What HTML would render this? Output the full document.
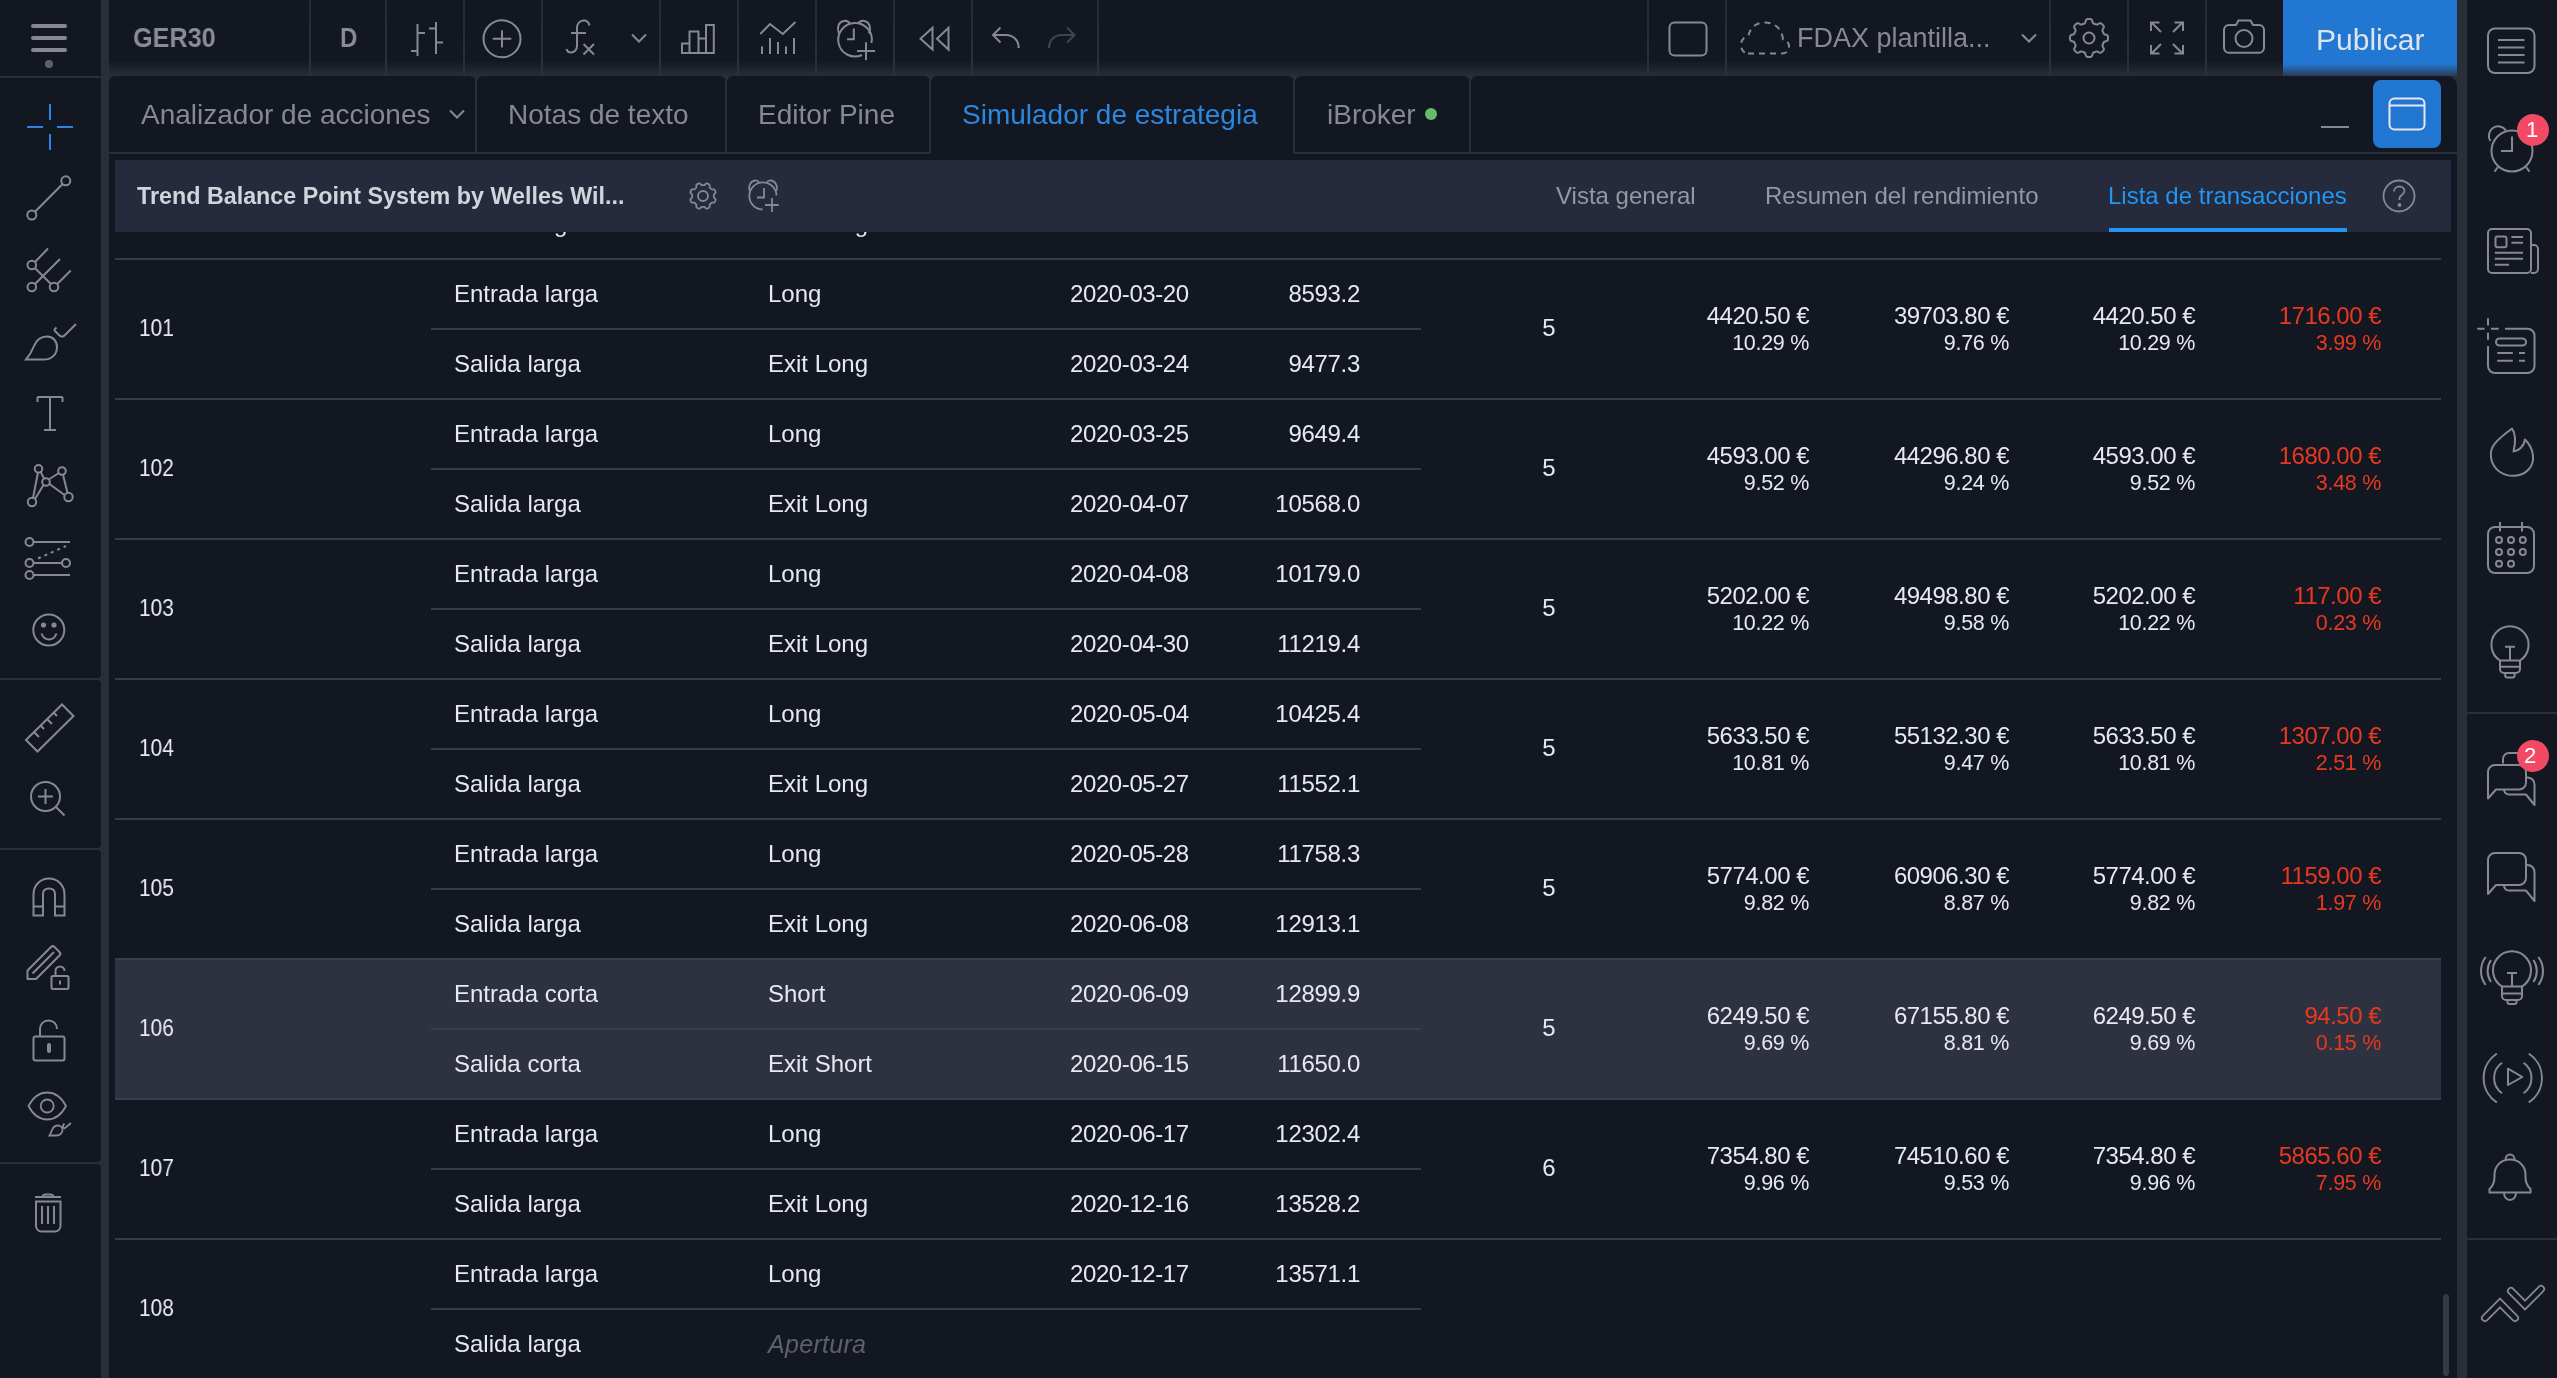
<!DOCTYPE html>
<html><head><meta charset="utf-8"><style>
html,body{margin:0;padding:0;}
body{width:2557px;height:1378px;position:relative;overflow:hidden;background:#2a2e39;font-family:"Liberation Sans",sans-serif;-webkit-font-smoothing:antialiased;}
</style></head><body>

<div style="position:absolute;left:0px;top:0px;width:101px;height:76px;background:#131722;"></div>
<div style="position:absolute;left:0px;top:78px;width:101px;height:600px;background:#131722;border-radius:0 0 4px 0;"></div>
<div style="position:absolute;left:0px;top:680px;width:101px;height:168px;background:#131722;border-radius:0 4px 4px 0;"></div>
<div style="position:absolute;left:0px;top:850px;width:101px;height:312px;background:#131722;border-radius:0 4px 4px 0;"></div>
<div style="position:absolute;left:0px;top:1164px;width:101px;height:214px;background:#131722;border-radius:0 4px 0 0;"></div>
<div style="position:absolute;left:109px;top:0px;width:2348px;height:76px;background:linear-gradient(to bottom,#131722 0px,#131722 60px,#292d38 76px);"></div>
<div style="position:absolute;left:309px;top:0px;width:2px;height:76px;background:linear-gradient(to bottom,#262a35,#2c303b);"></div>
<div style="position:absolute;left:385px;top:0px;width:2px;height:76px;background:linear-gradient(to bottom,#262a35,#2c303b);"></div>
<div style="position:absolute;left:463px;top:0px;width:2px;height:76px;background:linear-gradient(to bottom,#262a35,#2c303b);"></div>
<div style="position:absolute;left:541px;top:0px;width:2px;height:76px;background:linear-gradient(to bottom,#262a35,#2c303b);"></div>
<div style="position:absolute;left:659px;top:0px;width:2px;height:76px;background:linear-gradient(to bottom,#262a35,#2c303b);"></div>
<div style="position:absolute;left:737px;top:0px;width:2px;height:76px;background:linear-gradient(to bottom,#262a35,#2c303b);"></div>
<div style="position:absolute;left:815px;top:0px;width:2px;height:76px;background:linear-gradient(to bottom,#262a35,#2c303b);"></div>
<div style="position:absolute;left:893px;top:0px;width:2px;height:76px;background:linear-gradient(to bottom,#262a35,#2c303b);"></div>
<div style="position:absolute;left:971px;top:0px;width:2px;height:76px;background:linear-gradient(to bottom,#262a35,#2c303b);"></div>
<div style="position:absolute;left:1097px;top:0px;width:2px;height:76px;background:linear-gradient(to bottom,#262a35,#2c303b);"></div>
<div style="position:absolute;left:1647px;top:0px;width:2px;height:76px;background:linear-gradient(to bottom,#262a35,#2c303b);"></div>
<div style="position:absolute;left:1725px;top:0px;width:2px;height:76px;background:linear-gradient(to bottom,#262a35,#2c303b);"></div>
<div style="position:absolute;left:2049px;top:0px;width:2px;height:76px;background:linear-gradient(to bottom,#262a35,#2c303b);"></div>
<div style="position:absolute;left:2127px;top:0px;width:2px;height:76px;background:linear-gradient(to bottom,#262a35,#2c303b);"></div>
<div style="position:absolute;left:2205px;top:0px;width:2px;height:76px;background:linear-gradient(to bottom,#262a35,#2c303b);"></div>
<div style="position:absolute;left:2283px;top:0px;width:174px;height:76px;background:linear-gradient(to bottom,#2277d2 0px,#2277d2 64px,#2a3a52 76px);"></div>
<div style="position:absolute;left:2467px;top:0px;width:90px;height:1378px;background:#131722;"></div>
<div style="position:absolute;left:2467px;top:712px;width:90px;height:2px;background:#2a2e39;"></div>
<div style="position:absolute;left:2467px;top:1238px;width:90px;height:2px;background:#2a2e39;"></div>
<div style="position:absolute;left:109px;top:76px;width:367px;height:78px;background:#131722;border-radius:6px 6px 0 0;"></div>
<div style="position:absolute;left:477px;top:76px;width:249px;height:78px;background:#131722;border-radius:6px 6px 0 0;"></div>
<div style="position:absolute;left:727px;top:76px;width:203px;height:78px;background:#131722;border-radius:6px 6px 0 0;"></div>
<div style="position:absolute;left:931px;top:76px;width:363px;height:78px;background:#131722;border-radius:6px 6px 0 0;"></div>
<div style="position:absolute;left:1295px;top:76px;width:175px;height:78px;background:#131722;border-radius:6px 6px 0 0;"></div>
<div style="position:absolute;left:1471px;top:76px;width:986px;height:78px;background:#131722;border-radius:6px 10px 0 0;"></div>
<div style="position:absolute;left:475px;top:80px;width:2px;height:74px;background:#2a2e39;"></div>
<div style="position:absolute;left:725px;top:80px;width:2px;height:74px;background:#2a2e39;"></div>
<div style="position:absolute;left:929px;top:80px;width:2px;height:74px;background:#2a2e39;"></div>
<div style="position:absolute;left:1293px;top:80px;width:2px;height:74px;background:#2a2e39;"></div>
<div style="position:absolute;left:1469px;top:80px;width:2px;height:74px;background:#2a2e39;"></div>
<div style="position:absolute;left:109px;top:152px;width:822px;height:2px;background:#2a2e39;"></div>
<div style="position:absolute;left:1294px;top:152px;width:1163px;height:2px;background:#2a2e39;"></div>
<div style="position:absolute;left:109px;top:154px;width:2348px;height:1224px;background:#131722;"></div>
<div style="position:absolute;left:31px;top:24px;width:36px;height:4px;background:#868993;border-radius:2px;"></div>
<div style="position:absolute;left:31px;top:36px;width:36px;height:4px;background:#868993;border-radius:2px;"></div>
<div style="position:absolute;left:31px;top:48px;width:36px;height:4px;background:#868993;border-radius:2px;"></div>
<div style="position:absolute;left:45px;top:60px;width:8px;height:8px;background:#5d606b;border-radius:50%;"></div>
<div style="position:absolute;top:8.00px;height:60px;line-height:60px;font-size:28px;color:#8a8d97;font-weight:700;white-space:nowrap;will-change:transform;left:133px;transform:scaleX(0.9);transform-origin:0 50%;">GER30</div>
<div style="position:absolute;top:8.00px;height:60px;line-height:60px;font-size:28px;color:#8a8d97;font-weight:700;white-space:nowrap;will-change:transform;left:340px;transform:scaleX(0.86);transform-origin:0 50%;">D</div>
<svg style="position:absolute;left:405px;top:15px;" width="45" height="48" viewBox="405 15 45 48" fill="none" stroke="#868993" stroke-width="2"><path d="M417.5 24V56M411 51H417.5M417.5 33H425M436 22V54M429 28.5H436M436 42.5H443"/></svg>
<svg style="position:absolute;left:478px;top:14px;" width="50" height="50" viewBox="478 14 50 50" fill="none" stroke="#868993" stroke-width="2"><circle cx="502" cy="38.8" r="18.5"/><path d="M492.8 38.8H511.3M502 30.3V47.5"/></svg>
<svg style="position:absolute;left:560px;top:14px;" width="40" height="46" viewBox="560 14 40 46" fill="none" stroke="#868993" stroke-width="2"><path d="M589.5 25.5C589 22 586 20 583 20.5C579.5 21 577 24 577 28V46C577 50 574 52.5 571 52.5C568.5 52.5 567 51 566.5 49M571 33H586M583.5 44L594 54.5M594 44L583.5 54.5"/></svg>
<svg style="position:absolute;left:626px;top:28px;" width="26" height="20" viewBox="626 28 26 20" fill="none" stroke="#868993" stroke-width="2"><path d="M632 34.5L639 41.5L646 34.5"/></svg>
<svg style="position:absolute;left:676px;top:18px;" width="44" height="42" viewBox="676 18 44 42" fill="none" stroke="#868993" stroke-width="2"><path d="M682 53V43.6H689.5V53ZM689.5 53V31.6H698.5V53ZM698.5 53V38.5H706V53ZM706 53V25H713.8V53Z"/></svg>
<svg style="position:absolute;left:755px;top:16px;" width="46" height="44" viewBox="755 16 46 44" fill="none" stroke="#868993" stroke-width="2"><path d="M760.3 34L770 24L782.8 34L795.5 22M762 46.4V54M770 38V54M778 42V54M786 46.4V54M794 38V54"/></svg>
<svg style="position:absolute;left:830px;top:14px;" width="50" height="50" viewBox="830 14 50 50" fill="none" stroke="#868993" stroke-width="2"><path d="M862 55A16.8 16.8 0 1 1 871.5 43"/><path d="M839 33.5C836.5 28 838.5 22 843.5 21C846.5 20.5 849 22 850 24M858 24C859 22 861.5 20.5 864.5 21C869.5 22 871.5 28 869 33.5"/><path d="M853.8 28.4V39.2H847M857 51H875M866 42.3V60.3"/></svg>
<svg style="position:absolute;left:912px;top:20px;" width="44" height="38" viewBox="912 20 44 38" fill="none" stroke="#868993" stroke-width="2"><path d="M920.5 38.7L932.5 27.8V49.6ZM937 38.7L948.5 27.8V49.6Z"/></svg>
<svg style="position:absolute;left:988px;top:22px;" width="36" height="32" viewBox="988 22 36 32" fill="none" stroke="#868993" stroke-width="2"><path d="M1000.5 27.5L993 35L1000.5 42.5M993 35H1006C1013 35 1018.7 40 1018.7 48"/></svg>
<svg style="position:absolute;left:1044px;top:22px;" width="36" height="32" viewBox="1044 22 36 32" fill="none" stroke="#40444f" stroke-width="2"><path d="M1067 27.5L1074.5 35L1067 42.5M1074.5 35H1061.5C1054.5 35 1049 40 1049 48"/></svg>
<svg style="position:absolute;left:1664px;top:17px;" width="48" height="44" viewBox="1664 17 48 44" fill="none" stroke="#868993" stroke-width="2"><rect x="1669.5" y="22.5" width="37" height="33" rx="5"/></svg>
<svg style="position:absolute;left:1736px;top:16px;" width="60" height="44" viewBox="1736 16 60 44" fill="none" stroke="#868993" stroke-width="2"><path d="M1748 53.5H1782C1786.5 53.5 1789 50.5 1789 46.5C1789 43 1786.5 40 1783 39.5C1782 29 1775 22.5 1765 22.5C1756 22.5 1750 28 1748.5 35.5C1744 36.5 1741 40.5 1741 45C1741 50 1744 53.5 1748 53.5Z" stroke-dasharray="6 5"/></svg>
<div style="position:absolute;top:8.00px;height:60px;line-height:60px;font-size:27px;color:#868993;font-weight:400;white-space:nowrap;will-change:transform;left:1797px;">FDAX plantilla...</div>
<svg style="position:absolute;left:2016px;top:28px;" width="26" height="20" viewBox="2016 28 26 20" fill="none" stroke="#868993" stroke-width="2"><path d="M2022 34.5L2029 41.5L2036 34.5"/></svg>
<svg style="position:absolute;left:2064px;top:13px;" width="50" height="50" viewBox="2064 13 50 50" fill="none" stroke="#868993" stroke-width="2"><path d="M2089.00 19.00L2089.75 19.02L2090.49 19.10L2091.21 19.30L2091.87 19.88L2092.34 21.23L2092.70 22.59L2093.17 23.21L2093.71 23.51L2094.26 23.73L2094.82 23.96L2095.37 24.19L2095.92 24.42L2096.51 24.59L2097.28 24.48L2098.50 23.78L2099.79 23.16L2100.66 23.21L2101.31 23.58L2101.89 24.05L2102.44 24.56L2102.95 25.11L2103.42 25.69L2103.79 26.34L2103.84 27.21L2103.22 28.50L2102.52 29.72L2102.41 30.49L2102.58 31.08L2102.81 31.63L2103.04 32.18L2103.27 32.74L2103.49 33.29L2103.79 33.83L2104.41 34.30L2105.77 34.66L2107.12 35.13L2107.70 35.79L2107.90 36.51L2107.98 37.25L2108.00 38.00L2107.98 38.75L2107.90 39.49L2107.70 40.21L2107.12 40.87L2105.77 41.34L2104.41 41.70L2103.79 42.17L2103.49 42.71L2103.27 43.26L2103.04 43.82L2102.81 44.37L2102.58 44.92L2102.41 45.51L2102.52 46.28L2103.22 47.50L2103.84 48.79L2103.79 49.66L2103.42 50.31L2102.95 50.89L2102.44 51.44L2101.89 51.95L2101.31 52.42L2100.66 52.79L2099.79 52.84L2098.50 52.22L2097.28 51.52L2096.51 51.41L2095.92 51.58L2095.37 51.81L2094.82 52.04L2094.26 52.27L2093.71 52.49L2093.17 52.79L2092.70 53.41L2092.34 54.77L2091.87 56.12L2091.21 56.70L2090.49 56.90L2089.75 56.98L2089.00 57.00L2088.25 56.98L2087.51 56.90L2086.79 56.70L2086.13 56.12L2085.66 54.77L2085.30 53.41L2084.83 52.79L2084.29 52.49L2083.74 52.27L2083.18 52.04L2082.63 51.81L2082.08 51.58L2081.49 51.41L2080.72 51.52L2079.50 52.22L2078.21 52.84L2077.34 52.79L2076.69 52.42L2076.11 51.95L2075.56 51.44L2075.05 50.89L2074.58 50.31L2074.21 49.66L2074.16 48.79L2074.78 47.50L2075.48 46.28L2075.59 45.51L2075.42 44.92L2075.19 44.37L2074.96 43.82L2074.73 43.26L2074.51 42.71L2074.21 42.17L2073.59 41.70L2072.23 41.34L2070.88 40.87L2070.30 40.21L2070.10 39.49L2070.02 38.75L2070.00 38.00L2070.02 37.25L2070.10 36.51L2070.30 35.79L2070.88 35.13L2072.23 34.66L2073.59 34.30L2074.21 33.83L2074.51 33.29L2074.73 32.74L2074.96 32.18L2075.19 31.63L2075.42 31.08L2075.59 30.49L2075.48 29.72L2074.78 28.50L2074.16 27.21L2074.21 26.34L2074.58 25.69L2075.05 25.11L2075.56 24.56L2076.11 24.05L2076.69 23.58L2077.34 23.21L2078.21 23.16L2079.50 23.78L2080.72 24.48L2081.49 24.59L2082.08 24.42L2082.63 24.19L2083.18 23.96L2083.74 23.73L2084.29 23.51L2084.83 23.21L2085.30 22.59L2085.66 21.23L2086.13 19.88L2086.79 19.30L2087.51 19.10L2088.25 19.02Z"/><circle cx="2089" cy="38" r="5.5"/></svg>
<svg style="position:absolute;left:2146px;top:17px;" width="42" height="42" viewBox="2146 17 42 42" fill="none" stroke="#868993" stroke-width="2"><path d="M2152 23L2161 32M2151 31V22.5H2159.5M2182 23L2173 32M2183 31V22.5H2174.5M2152 53L2161 44M2151 45V53.5H2159.5M2182 53L2173 44M2183 45V53.5H2174.5"/></svg>
<svg style="position:absolute;left:2218px;top:15px;" width="52" height="44" viewBox="2218 15 52 44" fill="none" stroke="#868993" stroke-width="2"><path d="M2229 25H2236L2238.5 20.5H2250.5L2253 25H2259A5 5 0 0 1 2264 30V47.8A5 5 0 0 1 2259 52.8H2229A5 5 0 0 1 2224 47.8V30A5 5 0 0 1 2229 25Z"/><circle cx="2244" cy="38.5" r="8.5"/></svg>
<div style="position:absolute;top:10.00px;height:60px;line-height:60px;font-size:30px;color:#dfe3ea;font-weight:400;white-space:nowrap;will-change:transform;left:2316px;">Publicar</div>
<div style="position:absolute;top:85.00px;height:60px;line-height:60px;font-size:28px;color:#868993;font-weight:400;white-space:nowrap;will-change:transform;left:141px;">Analizador de acciones</div>
<svg style="position:absolute;left:444px;top:104px;" width="26" height="20" viewBox="444 104 26 20" fill="none" stroke="#868993" stroke-width="2"><path d="M450 110.5L457 117.5L464 110.5"/></svg>
<div style="position:absolute;top:85.00px;height:60px;line-height:60px;font-size:28px;color:#868993;font-weight:400;white-space:nowrap;will-change:transform;left:508px;">Notas de texto</div>
<div style="position:absolute;top:85.00px;height:60px;line-height:60px;font-size:28px;color:#868993;font-weight:400;white-space:nowrap;will-change:transform;left:758px;">Editor Pine</div>
<div style="position:absolute;top:85.00px;height:60px;line-height:60px;font-size:28px;color:#2b87e0;font-weight:400;white-space:nowrap;will-change:transform;left:962px;">Simulador de estrategia</div>
<div style="position:absolute;top:85.00px;height:60px;line-height:60px;font-size:28px;color:#868993;font-weight:400;white-space:nowrap;will-change:transform;left:1327px;">iBroker</div>
<div style="position:absolute;left:1425px;top:108px;width:12px;height:12px;background:#66bb6a;border-radius:50%;"></div>
<div style="position:absolute;left:2321px;top:126px;width:28px;height:2px;background:#868993;"></div>
<div style="position:absolute;left:2373px;top:80px;width:68px;height:68px;background:#2176d2;border-radius:8px;"></div>
<svg style="position:absolute;left:2384px;top:93px;" width="46" height="42" viewBox="2384 93 46 42" fill="none" stroke="#e6e8ec" stroke-width="2"><rect x="2389.5" y="98.5" width="35" height="31" rx="5"/><path d="M2390 105.5H2424"/></svg>
<div style="position:absolute;left:109px;top:232px;width:2348px;height:1146px;overflow:hidden;">
<div style="position:absolute;left:6px;top:-114px;width:2326px;height:2px;background:#363a4a;"></div>
<div style="position:absolute;left:322px;top:-44px;width:990px;height:2px;background:#363a4a;"></div>
<div style="position:absolute;top:-108.00px;height:60px;line-height:60px;font-size:24px;color:#e6e9ef;font-weight:400;white-space:nowrap;will-change:transform;left:345px;">Entrada larga</div>
<div style="position:absolute;top:-108.00px;height:60px;line-height:60px;font-size:24px;color:#e6e9ef;font-weight:400;white-space:nowrap;will-change:transform;left:659px;">Long</div>
<div style="position:absolute;top:-108.00px;height:60px;line-height:60px;font-size:24px;color:#e6e9ef;font-weight:400;white-space:nowrap;will-change:transform;left:961px;letter-spacing:-0.4px;">2020-03-12</div>
<div style="position:absolute;top:-108.00px;height:60px;line-height:60px;font-size:24px;color:#e6e9ef;font-weight:400;white-space:nowrap;will-change:transform;left:1051px;width:200px;text-align:right;letter-spacing:-0.3px;">9163.2</div>
<div style="position:absolute;top:-38.00px;height:60px;line-height:60px;font-size:24px;color:#e6e9ef;font-weight:400;white-space:nowrap;will-change:transform;left:345px;">Salida larga</div>
<div style="position:absolute;top:-38.00px;height:60px;line-height:60px;font-size:24px;color:#e6e9ef;font-weight:400;white-space:nowrap;will-change:transform;left:659px;">Exit Long</div>
<div style="position:absolute;top:-38.00px;height:60px;line-height:60px;font-size:24px;color:#e6e9ef;font-weight:400;white-space:nowrap;will-change:transform;left:961px;letter-spacing:-0.4px;">2020-03-19</div>
<div style="position:absolute;top:-38.00px;height:60px;line-height:60px;font-size:24px;color:#e6e9ef;font-weight:400;white-space:nowrap;will-change:transform;left:1051px;width:200px;text-align:right;letter-spacing:-0.3px;">8543.1</div>
<div style="position:absolute;left:6px;top:26px;width:2326px;height:2px;background:#363a4a;"></div>
<div style="position:absolute;left:322px;top:96px;width:990px;height:2px;background:#363a4a;"></div>
<div style="position:absolute;top:66.00px;height:60px;line-height:60px;font-size:24px;color:#e6e9ef;font-weight:400;white-space:nowrap;will-change:transform;left:30px;transform:scaleX(0.87);transform-origin:0 50%;">101</div>
<div style="position:absolute;top:32.00px;height:60px;line-height:60px;font-size:24px;color:#e6e9ef;font-weight:400;white-space:nowrap;will-change:transform;left:345px;">Entrada larga</div>
<div style="position:absolute;top:32.00px;height:60px;line-height:60px;font-size:24px;color:#e6e9ef;font-weight:400;white-space:nowrap;will-change:transform;left:659px;">Long</div>
<div style="position:absolute;top:32.00px;height:60px;line-height:60px;font-size:24px;color:#e6e9ef;font-weight:400;white-space:nowrap;will-change:transform;left:961px;letter-spacing:-0.4px;">2020-03-20</div>
<div style="position:absolute;top:32.00px;height:60px;line-height:60px;font-size:24px;color:#e6e9ef;font-weight:400;white-space:nowrap;will-change:transform;left:1051px;width:200px;text-align:right;letter-spacing:-0.3px;">8593.2</div>
<div style="position:absolute;top:102.00px;height:60px;line-height:60px;font-size:24px;color:#e6e9ef;font-weight:400;white-space:nowrap;will-change:transform;left:345px;">Salida larga</div>
<div style="position:absolute;top:102.00px;height:60px;line-height:60px;font-size:24px;color:#e6e9ef;font-weight:400;white-space:nowrap;will-change:transform;left:659px;">Exit Long</div>
<div style="position:absolute;top:102.00px;height:60px;line-height:60px;font-size:24px;color:#e6e9ef;font-weight:400;white-space:nowrap;will-change:transform;left:961px;letter-spacing:-0.4px;">2020-03-24</div>
<div style="position:absolute;top:102.00px;height:60px;line-height:60px;font-size:24px;color:#e6e9ef;font-weight:400;white-space:nowrap;will-change:transform;left:1051px;width:200px;text-align:right;letter-spacing:-0.3px;">9477.3</div>
<div style="position:absolute;top:66.00px;height:60px;line-height:60px;font-size:24px;color:#e6e9ef;font-weight:400;white-space:nowrap;will-change:transform;left:1410.0px;width:60px;text-align:center;">5</div>
<div style="position:absolute;top:54.00px;height:60px;line-height:60px;font-size:24px;color:#e6e9ef;font-weight:400;white-space:nowrap;will-change:transform;left:1400px;width:300px;text-align:right;letter-spacing:-0.5px;">4420.50 €</div>
<div style="position:absolute;top:80.50px;height:60px;line-height:60px;font-size:21.5px;color:#e6e9ef;font-weight:400;white-space:nowrap;will-change:transform;left:1400px;width:300px;text-align:right;letter-spacing:-0.3px;">10.29 %</div>
<div style="position:absolute;top:54.00px;height:60px;line-height:60px;font-size:24px;color:#e6e9ef;font-weight:400;white-space:nowrap;will-change:transform;left:1600px;width:300px;text-align:right;letter-spacing:-0.5px;">39703.80 €</div>
<div style="position:absolute;top:80.50px;height:60px;line-height:60px;font-size:21.5px;color:#e6e9ef;font-weight:400;white-space:nowrap;will-change:transform;left:1600px;width:300px;text-align:right;letter-spacing:-0.3px;">9.76 %</div>
<div style="position:absolute;top:54.00px;height:60px;line-height:60px;font-size:24px;color:#e6e9ef;font-weight:400;white-space:nowrap;will-change:transform;left:1786px;width:300px;text-align:right;letter-spacing:-0.5px;">4420.50 €</div>
<div style="position:absolute;top:80.50px;height:60px;line-height:60px;font-size:21.5px;color:#e6e9ef;font-weight:400;white-space:nowrap;will-change:transform;left:1786px;width:300px;text-align:right;letter-spacing:-0.3px;">10.29 %</div>
<div style="position:absolute;top:54.00px;height:60px;line-height:60px;font-size:24px;color:#e8391f;font-weight:400;white-space:nowrap;will-change:transform;left:1972px;width:300px;text-align:right;letter-spacing:-0.5px;">1716.00 €</div>
<div style="position:absolute;top:80.50px;height:60px;line-height:60px;font-size:21.5px;color:#e8391f;font-weight:400;white-space:nowrap;will-change:transform;left:1972px;width:300px;text-align:right;letter-spacing:-0.3px;">3.99 %</div>
<div style="position:absolute;left:6px;top:166px;width:2326px;height:2px;background:#363a4a;"></div>
<div style="position:absolute;left:322px;top:236px;width:990px;height:2px;background:#363a4a;"></div>
<div style="position:absolute;top:206.00px;height:60px;line-height:60px;font-size:24px;color:#e6e9ef;font-weight:400;white-space:nowrap;will-change:transform;left:30px;transform:scaleX(0.87);transform-origin:0 50%;">102</div>
<div style="position:absolute;top:172.00px;height:60px;line-height:60px;font-size:24px;color:#e6e9ef;font-weight:400;white-space:nowrap;will-change:transform;left:345px;">Entrada larga</div>
<div style="position:absolute;top:172.00px;height:60px;line-height:60px;font-size:24px;color:#e6e9ef;font-weight:400;white-space:nowrap;will-change:transform;left:659px;">Long</div>
<div style="position:absolute;top:172.00px;height:60px;line-height:60px;font-size:24px;color:#e6e9ef;font-weight:400;white-space:nowrap;will-change:transform;left:961px;letter-spacing:-0.4px;">2020-03-25</div>
<div style="position:absolute;top:172.00px;height:60px;line-height:60px;font-size:24px;color:#e6e9ef;font-weight:400;white-space:nowrap;will-change:transform;left:1051px;width:200px;text-align:right;letter-spacing:-0.3px;">9649.4</div>
<div style="position:absolute;top:242.00px;height:60px;line-height:60px;font-size:24px;color:#e6e9ef;font-weight:400;white-space:nowrap;will-change:transform;left:345px;">Salida larga</div>
<div style="position:absolute;top:242.00px;height:60px;line-height:60px;font-size:24px;color:#e6e9ef;font-weight:400;white-space:nowrap;will-change:transform;left:659px;">Exit Long</div>
<div style="position:absolute;top:242.00px;height:60px;line-height:60px;font-size:24px;color:#e6e9ef;font-weight:400;white-space:nowrap;will-change:transform;left:961px;letter-spacing:-0.4px;">2020-04-07</div>
<div style="position:absolute;top:242.00px;height:60px;line-height:60px;font-size:24px;color:#e6e9ef;font-weight:400;white-space:nowrap;will-change:transform;left:1051px;width:200px;text-align:right;letter-spacing:-0.3px;">10568.0</div>
<div style="position:absolute;top:206.00px;height:60px;line-height:60px;font-size:24px;color:#e6e9ef;font-weight:400;white-space:nowrap;will-change:transform;left:1410.0px;width:60px;text-align:center;">5</div>
<div style="position:absolute;top:194.00px;height:60px;line-height:60px;font-size:24px;color:#e6e9ef;font-weight:400;white-space:nowrap;will-change:transform;left:1400px;width:300px;text-align:right;letter-spacing:-0.5px;">4593.00 €</div>
<div style="position:absolute;top:220.50px;height:60px;line-height:60px;font-size:21.5px;color:#e6e9ef;font-weight:400;white-space:nowrap;will-change:transform;left:1400px;width:300px;text-align:right;letter-spacing:-0.3px;">9.52 %</div>
<div style="position:absolute;top:194.00px;height:60px;line-height:60px;font-size:24px;color:#e6e9ef;font-weight:400;white-space:nowrap;will-change:transform;left:1600px;width:300px;text-align:right;letter-spacing:-0.5px;">44296.80 €</div>
<div style="position:absolute;top:220.50px;height:60px;line-height:60px;font-size:21.5px;color:#e6e9ef;font-weight:400;white-space:nowrap;will-change:transform;left:1600px;width:300px;text-align:right;letter-spacing:-0.3px;">9.24 %</div>
<div style="position:absolute;top:194.00px;height:60px;line-height:60px;font-size:24px;color:#e6e9ef;font-weight:400;white-space:nowrap;will-change:transform;left:1786px;width:300px;text-align:right;letter-spacing:-0.5px;">4593.00 €</div>
<div style="position:absolute;top:220.50px;height:60px;line-height:60px;font-size:21.5px;color:#e6e9ef;font-weight:400;white-space:nowrap;will-change:transform;left:1786px;width:300px;text-align:right;letter-spacing:-0.3px;">9.52 %</div>
<div style="position:absolute;top:194.00px;height:60px;line-height:60px;font-size:24px;color:#e8391f;font-weight:400;white-space:nowrap;will-change:transform;left:1972px;width:300px;text-align:right;letter-spacing:-0.5px;">1680.00 €</div>
<div style="position:absolute;top:220.50px;height:60px;line-height:60px;font-size:21.5px;color:#e8391f;font-weight:400;white-space:nowrap;will-change:transform;left:1972px;width:300px;text-align:right;letter-spacing:-0.3px;">3.48 %</div>
<div style="position:absolute;left:6px;top:306px;width:2326px;height:2px;background:#363a4a;"></div>
<div style="position:absolute;left:322px;top:376px;width:990px;height:2px;background:#363a4a;"></div>
<div style="position:absolute;top:346.00px;height:60px;line-height:60px;font-size:24px;color:#e6e9ef;font-weight:400;white-space:nowrap;will-change:transform;left:30px;transform:scaleX(0.87);transform-origin:0 50%;">103</div>
<div style="position:absolute;top:312.00px;height:60px;line-height:60px;font-size:24px;color:#e6e9ef;font-weight:400;white-space:nowrap;will-change:transform;left:345px;">Entrada larga</div>
<div style="position:absolute;top:312.00px;height:60px;line-height:60px;font-size:24px;color:#e6e9ef;font-weight:400;white-space:nowrap;will-change:transform;left:659px;">Long</div>
<div style="position:absolute;top:312.00px;height:60px;line-height:60px;font-size:24px;color:#e6e9ef;font-weight:400;white-space:nowrap;will-change:transform;left:961px;letter-spacing:-0.4px;">2020-04-08</div>
<div style="position:absolute;top:312.00px;height:60px;line-height:60px;font-size:24px;color:#e6e9ef;font-weight:400;white-space:nowrap;will-change:transform;left:1051px;width:200px;text-align:right;letter-spacing:-0.3px;">10179.0</div>
<div style="position:absolute;top:382.00px;height:60px;line-height:60px;font-size:24px;color:#e6e9ef;font-weight:400;white-space:nowrap;will-change:transform;left:345px;">Salida larga</div>
<div style="position:absolute;top:382.00px;height:60px;line-height:60px;font-size:24px;color:#e6e9ef;font-weight:400;white-space:nowrap;will-change:transform;left:659px;">Exit Long</div>
<div style="position:absolute;top:382.00px;height:60px;line-height:60px;font-size:24px;color:#e6e9ef;font-weight:400;white-space:nowrap;will-change:transform;left:961px;letter-spacing:-0.4px;">2020-04-30</div>
<div style="position:absolute;top:382.00px;height:60px;line-height:60px;font-size:24px;color:#e6e9ef;font-weight:400;white-space:nowrap;will-change:transform;left:1051px;width:200px;text-align:right;letter-spacing:-0.3px;">11219.4</div>
<div style="position:absolute;top:346.00px;height:60px;line-height:60px;font-size:24px;color:#e6e9ef;font-weight:400;white-space:nowrap;will-change:transform;left:1410.0px;width:60px;text-align:center;">5</div>
<div style="position:absolute;top:334.00px;height:60px;line-height:60px;font-size:24px;color:#e6e9ef;font-weight:400;white-space:nowrap;will-change:transform;left:1400px;width:300px;text-align:right;letter-spacing:-0.5px;">5202.00 €</div>
<div style="position:absolute;top:360.50px;height:60px;line-height:60px;font-size:21.5px;color:#e6e9ef;font-weight:400;white-space:nowrap;will-change:transform;left:1400px;width:300px;text-align:right;letter-spacing:-0.3px;">10.22 %</div>
<div style="position:absolute;top:334.00px;height:60px;line-height:60px;font-size:24px;color:#e6e9ef;font-weight:400;white-space:nowrap;will-change:transform;left:1600px;width:300px;text-align:right;letter-spacing:-0.5px;">49498.80 €</div>
<div style="position:absolute;top:360.50px;height:60px;line-height:60px;font-size:21.5px;color:#e6e9ef;font-weight:400;white-space:nowrap;will-change:transform;left:1600px;width:300px;text-align:right;letter-spacing:-0.3px;">9.58 %</div>
<div style="position:absolute;top:334.00px;height:60px;line-height:60px;font-size:24px;color:#e6e9ef;font-weight:400;white-space:nowrap;will-change:transform;left:1786px;width:300px;text-align:right;letter-spacing:-0.5px;">5202.00 €</div>
<div style="position:absolute;top:360.50px;height:60px;line-height:60px;font-size:21.5px;color:#e6e9ef;font-weight:400;white-space:nowrap;will-change:transform;left:1786px;width:300px;text-align:right;letter-spacing:-0.3px;">10.22 %</div>
<div style="position:absolute;top:334.00px;height:60px;line-height:60px;font-size:24px;color:#e8391f;font-weight:400;white-space:nowrap;will-change:transform;left:1972px;width:300px;text-align:right;letter-spacing:-0.5px;">117.00 €</div>
<div style="position:absolute;top:360.50px;height:60px;line-height:60px;font-size:21.5px;color:#e8391f;font-weight:400;white-space:nowrap;will-change:transform;left:1972px;width:300px;text-align:right;letter-spacing:-0.3px;">0.23 %</div>
<div style="position:absolute;left:6px;top:446px;width:2326px;height:2px;background:#363a4a;"></div>
<div style="position:absolute;left:322px;top:516px;width:990px;height:2px;background:#363a4a;"></div>
<div style="position:absolute;top:486.00px;height:60px;line-height:60px;font-size:24px;color:#e6e9ef;font-weight:400;white-space:nowrap;will-change:transform;left:30px;transform:scaleX(0.87);transform-origin:0 50%;">104</div>
<div style="position:absolute;top:452.00px;height:60px;line-height:60px;font-size:24px;color:#e6e9ef;font-weight:400;white-space:nowrap;will-change:transform;left:345px;">Entrada larga</div>
<div style="position:absolute;top:452.00px;height:60px;line-height:60px;font-size:24px;color:#e6e9ef;font-weight:400;white-space:nowrap;will-change:transform;left:659px;">Long</div>
<div style="position:absolute;top:452.00px;height:60px;line-height:60px;font-size:24px;color:#e6e9ef;font-weight:400;white-space:nowrap;will-change:transform;left:961px;letter-spacing:-0.4px;">2020-05-04</div>
<div style="position:absolute;top:452.00px;height:60px;line-height:60px;font-size:24px;color:#e6e9ef;font-weight:400;white-space:nowrap;will-change:transform;left:1051px;width:200px;text-align:right;letter-spacing:-0.3px;">10425.4</div>
<div style="position:absolute;top:522.00px;height:60px;line-height:60px;font-size:24px;color:#e6e9ef;font-weight:400;white-space:nowrap;will-change:transform;left:345px;">Salida larga</div>
<div style="position:absolute;top:522.00px;height:60px;line-height:60px;font-size:24px;color:#e6e9ef;font-weight:400;white-space:nowrap;will-change:transform;left:659px;">Exit Long</div>
<div style="position:absolute;top:522.00px;height:60px;line-height:60px;font-size:24px;color:#e6e9ef;font-weight:400;white-space:nowrap;will-change:transform;left:961px;letter-spacing:-0.4px;">2020-05-27</div>
<div style="position:absolute;top:522.00px;height:60px;line-height:60px;font-size:24px;color:#e6e9ef;font-weight:400;white-space:nowrap;will-change:transform;left:1051px;width:200px;text-align:right;letter-spacing:-0.3px;">11552.1</div>
<div style="position:absolute;top:486.00px;height:60px;line-height:60px;font-size:24px;color:#e6e9ef;font-weight:400;white-space:nowrap;will-change:transform;left:1410.0px;width:60px;text-align:center;">5</div>
<div style="position:absolute;top:474.00px;height:60px;line-height:60px;font-size:24px;color:#e6e9ef;font-weight:400;white-space:nowrap;will-change:transform;left:1400px;width:300px;text-align:right;letter-spacing:-0.5px;">5633.50 €</div>
<div style="position:absolute;top:500.50px;height:60px;line-height:60px;font-size:21.5px;color:#e6e9ef;font-weight:400;white-space:nowrap;will-change:transform;left:1400px;width:300px;text-align:right;letter-spacing:-0.3px;">10.81 %</div>
<div style="position:absolute;top:474.00px;height:60px;line-height:60px;font-size:24px;color:#e6e9ef;font-weight:400;white-space:nowrap;will-change:transform;left:1600px;width:300px;text-align:right;letter-spacing:-0.5px;">55132.30 €</div>
<div style="position:absolute;top:500.50px;height:60px;line-height:60px;font-size:21.5px;color:#e6e9ef;font-weight:400;white-space:nowrap;will-change:transform;left:1600px;width:300px;text-align:right;letter-spacing:-0.3px;">9.47 %</div>
<div style="position:absolute;top:474.00px;height:60px;line-height:60px;font-size:24px;color:#e6e9ef;font-weight:400;white-space:nowrap;will-change:transform;left:1786px;width:300px;text-align:right;letter-spacing:-0.5px;">5633.50 €</div>
<div style="position:absolute;top:500.50px;height:60px;line-height:60px;font-size:21.5px;color:#e6e9ef;font-weight:400;white-space:nowrap;will-change:transform;left:1786px;width:300px;text-align:right;letter-spacing:-0.3px;">10.81 %</div>
<div style="position:absolute;top:474.00px;height:60px;line-height:60px;font-size:24px;color:#e8391f;font-weight:400;white-space:nowrap;will-change:transform;left:1972px;width:300px;text-align:right;letter-spacing:-0.5px;">1307.00 €</div>
<div style="position:absolute;top:500.50px;height:60px;line-height:60px;font-size:21.5px;color:#e8391f;font-weight:400;white-space:nowrap;will-change:transform;left:1972px;width:300px;text-align:right;letter-spacing:-0.3px;">2.51 %</div>
<div style="position:absolute;left:6px;top:586px;width:2326px;height:2px;background:#363a4a;"></div>
<div style="position:absolute;left:322px;top:656px;width:990px;height:2px;background:#363a4a;"></div>
<div style="position:absolute;top:626.00px;height:60px;line-height:60px;font-size:24px;color:#e6e9ef;font-weight:400;white-space:nowrap;will-change:transform;left:30px;transform:scaleX(0.87);transform-origin:0 50%;">105</div>
<div style="position:absolute;top:592.00px;height:60px;line-height:60px;font-size:24px;color:#e6e9ef;font-weight:400;white-space:nowrap;will-change:transform;left:345px;">Entrada larga</div>
<div style="position:absolute;top:592.00px;height:60px;line-height:60px;font-size:24px;color:#e6e9ef;font-weight:400;white-space:nowrap;will-change:transform;left:659px;">Long</div>
<div style="position:absolute;top:592.00px;height:60px;line-height:60px;font-size:24px;color:#e6e9ef;font-weight:400;white-space:nowrap;will-change:transform;left:961px;letter-spacing:-0.4px;">2020-05-28</div>
<div style="position:absolute;top:592.00px;height:60px;line-height:60px;font-size:24px;color:#e6e9ef;font-weight:400;white-space:nowrap;will-change:transform;left:1051px;width:200px;text-align:right;letter-spacing:-0.3px;">11758.3</div>
<div style="position:absolute;top:662.00px;height:60px;line-height:60px;font-size:24px;color:#e6e9ef;font-weight:400;white-space:nowrap;will-change:transform;left:345px;">Salida larga</div>
<div style="position:absolute;top:662.00px;height:60px;line-height:60px;font-size:24px;color:#e6e9ef;font-weight:400;white-space:nowrap;will-change:transform;left:659px;">Exit Long</div>
<div style="position:absolute;top:662.00px;height:60px;line-height:60px;font-size:24px;color:#e6e9ef;font-weight:400;white-space:nowrap;will-change:transform;left:961px;letter-spacing:-0.4px;">2020-06-08</div>
<div style="position:absolute;top:662.00px;height:60px;line-height:60px;font-size:24px;color:#e6e9ef;font-weight:400;white-space:nowrap;will-change:transform;left:1051px;width:200px;text-align:right;letter-spacing:-0.3px;">12913.1</div>
<div style="position:absolute;top:626.00px;height:60px;line-height:60px;font-size:24px;color:#e6e9ef;font-weight:400;white-space:nowrap;will-change:transform;left:1410.0px;width:60px;text-align:center;">5</div>
<div style="position:absolute;top:614.00px;height:60px;line-height:60px;font-size:24px;color:#e6e9ef;font-weight:400;white-space:nowrap;will-change:transform;left:1400px;width:300px;text-align:right;letter-spacing:-0.5px;">5774.00 €</div>
<div style="position:absolute;top:640.50px;height:60px;line-height:60px;font-size:21.5px;color:#e6e9ef;font-weight:400;white-space:nowrap;will-change:transform;left:1400px;width:300px;text-align:right;letter-spacing:-0.3px;">9.82 %</div>
<div style="position:absolute;top:614.00px;height:60px;line-height:60px;font-size:24px;color:#e6e9ef;font-weight:400;white-space:nowrap;will-change:transform;left:1600px;width:300px;text-align:right;letter-spacing:-0.5px;">60906.30 €</div>
<div style="position:absolute;top:640.50px;height:60px;line-height:60px;font-size:21.5px;color:#e6e9ef;font-weight:400;white-space:nowrap;will-change:transform;left:1600px;width:300px;text-align:right;letter-spacing:-0.3px;">8.87 %</div>
<div style="position:absolute;top:614.00px;height:60px;line-height:60px;font-size:24px;color:#e6e9ef;font-weight:400;white-space:nowrap;will-change:transform;left:1786px;width:300px;text-align:right;letter-spacing:-0.5px;">5774.00 €</div>
<div style="position:absolute;top:640.50px;height:60px;line-height:60px;font-size:21.5px;color:#e6e9ef;font-weight:400;white-space:nowrap;will-change:transform;left:1786px;width:300px;text-align:right;letter-spacing:-0.3px;">9.82 %</div>
<div style="position:absolute;top:614.00px;height:60px;line-height:60px;font-size:24px;color:#e8391f;font-weight:400;white-space:nowrap;will-change:transform;left:1972px;width:300px;text-align:right;letter-spacing:-0.5px;">1159.00 €</div>
<div style="position:absolute;top:640.50px;height:60px;line-height:60px;font-size:21.5px;color:#e8391f;font-weight:400;white-space:nowrap;will-change:transform;left:1972px;width:300px;text-align:right;letter-spacing:-0.3px;">1.97 %</div>
<div style="position:absolute;left:6px;top:726px;width:2326px;height:142px;background:#2e3140;"></div>
<div style="position:absolute;left:6px;top:726px;width:2326px;height:2px;background:#393e51;"></div>
<div style="position:absolute;left:322px;top:796px;width:990px;height:2px;background:#3a3e50;"></div>
<div style="position:absolute;top:766.00px;height:60px;line-height:60px;font-size:24px;color:#e6e9ef;font-weight:400;white-space:nowrap;will-change:transform;left:30px;transform:scaleX(0.87);transform-origin:0 50%;">106</div>
<div style="position:absolute;top:732.00px;height:60px;line-height:60px;font-size:24px;color:#e6e9ef;font-weight:400;white-space:nowrap;will-change:transform;left:345px;">Entrada corta</div>
<div style="position:absolute;top:732.00px;height:60px;line-height:60px;font-size:24px;color:#e6e9ef;font-weight:400;white-space:nowrap;will-change:transform;left:659px;">Short</div>
<div style="position:absolute;top:732.00px;height:60px;line-height:60px;font-size:24px;color:#e6e9ef;font-weight:400;white-space:nowrap;will-change:transform;left:961px;letter-spacing:-0.4px;">2020-06-09</div>
<div style="position:absolute;top:732.00px;height:60px;line-height:60px;font-size:24px;color:#e6e9ef;font-weight:400;white-space:nowrap;will-change:transform;left:1051px;width:200px;text-align:right;letter-spacing:-0.3px;">12899.9</div>
<div style="position:absolute;top:802.00px;height:60px;line-height:60px;font-size:24px;color:#e6e9ef;font-weight:400;white-space:nowrap;will-change:transform;left:345px;">Salida corta</div>
<div style="position:absolute;top:802.00px;height:60px;line-height:60px;font-size:24px;color:#e6e9ef;font-weight:400;white-space:nowrap;will-change:transform;left:659px;">Exit Short</div>
<div style="position:absolute;top:802.00px;height:60px;line-height:60px;font-size:24px;color:#e6e9ef;font-weight:400;white-space:nowrap;will-change:transform;left:961px;letter-spacing:-0.4px;">2020-06-15</div>
<div style="position:absolute;top:802.00px;height:60px;line-height:60px;font-size:24px;color:#e6e9ef;font-weight:400;white-space:nowrap;will-change:transform;left:1051px;width:200px;text-align:right;letter-spacing:-0.3px;">11650.0</div>
<div style="position:absolute;top:766.00px;height:60px;line-height:60px;font-size:24px;color:#e6e9ef;font-weight:400;white-space:nowrap;will-change:transform;left:1410.0px;width:60px;text-align:center;">5</div>
<div style="position:absolute;top:754.00px;height:60px;line-height:60px;font-size:24px;color:#e6e9ef;font-weight:400;white-space:nowrap;will-change:transform;left:1400px;width:300px;text-align:right;letter-spacing:-0.5px;">6249.50 €</div>
<div style="position:absolute;top:780.50px;height:60px;line-height:60px;font-size:21.5px;color:#e6e9ef;font-weight:400;white-space:nowrap;will-change:transform;left:1400px;width:300px;text-align:right;letter-spacing:-0.3px;">9.69 %</div>
<div style="position:absolute;top:754.00px;height:60px;line-height:60px;font-size:24px;color:#e6e9ef;font-weight:400;white-space:nowrap;will-change:transform;left:1600px;width:300px;text-align:right;letter-spacing:-0.5px;">67155.80 €</div>
<div style="position:absolute;top:780.50px;height:60px;line-height:60px;font-size:21.5px;color:#e6e9ef;font-weight:400;white-space:nowrap;will-change:transform;left:1600px;width:300px;text-align:right;letter-spacing:-0.3px;">8.81 %</div>
<div style="position:absolute;top:754.00px;height:60px;line-height:60px;font-size:24px;color:#e6e9ef;font-weight:400;white-space:nowrap;will-change:transform;left:1786px;width:300px;text-align:right;letter-spacing:-0.5px;">6249.50 €</div>
<div style="position:absolute;top:780.50px;height:60px;line-height:60px;font-size:21.5px;color:#e6e9ef;font-weight:400;white-space:nowrap;will-change:transform;left:1786px;width:300px;text-align:right;letter-spacing:-0.3px;">9.69 %</div>
<div style="position:absolute;top:754.00px;height:60px;line-height:60px;font-size:24px;color:#e8391f;font-weight:400;white-space:nowrap;will-change:transform;left:1972px;width:300px;text-align:right;letter-spacing:-0.5px;">94.50 €</div>
<div style="position:absolute;top:780.50px;height:60px;line-height:60px;font-size:21.5px;color:#e8391f;font-weight:400;white-space:nowrap;will-change:transform;left:1972px;width:300px;text-align:right;letter-spacing:-0.3px;">0.15 %</div>
<div style="position:absolute;left:6px;top:866px;width:2326px;height:2px;background:#393e51;"></div>
<div style="position:absolute;left:322px;top:936px;width:990px;height:2px;background:#363a4a;"></div>
<div style="position:absolute;top:906.00px;height:60px;line-height:60px;font-size:24px;color:#e6e9ef;font-weight:400;white-space:nowrap;will-change:transform;left:30px;transform:scaleX(0.87);transform-origin:0 50%;">107</div>
<div style="position:absolute;top:872.00px;height:60px;line-height:60px;font-size:24px;color:#e6e9ef;font-weight:400;white-space:nowrap;will-change:transform;left:345px;">Entrada larga</div>
<div style="position:absolute;top:872.00px;height:60px;line-height:60px;font-size:24px;color:#e6e9ef;font-weight:400;white-space:nowrap;will-change:transform;left:659px;">Long</div>
<div style="position:absolute;top:872.00px;height:60px;line-height:60px;font-size:24px;color:#e6e9ef;font-weight:400;white-space:nowrap;will-change:transform;left:961px;letter-spacing:-0.4px;">2020-06-17</div>
<div style="position:absolute;top:872.00px;height:60px;line-height:60px;font-size:24px;color:#e6e9ef;font-weight:400;white-space:nowrap;will-change:transform;left:1051px;width:200px;text-align:right;letter-spacing:-0.3px;">12302.4</div>
<div style="position:absolute;top:942.00px;height:60px;line-height:60px;font-size:24px;color:#e6e9ef;font-weight:400;white-space:nowrap;will-change:transform;left:345px;">Salida larga</div>
<div style="position:absolute;top:942.00px;height:60px;line-height:60px;font-size:24px;color:#e6e9ef;font-weight:400;white-space:nowrap;will-change:transform;left:659px;">Exit Long</div>
<div style="position:absolute;top:942.00px;height:60px;line-height:60px;font-size:24px;color:#e6e9ef;font-weight:400;white-space:nowrap;will-change:transform;left:961px;letter-spacing:-0.4px;">2020-12-16</div>
<div style="position:absolute;top:942.00px;height:60px;line-height:60px;font-size:24px;color:#e6e9ef;font-weight:400;white-space:nowrap;will-change:transform;left:1051px;width:200px;text-align:right;letter-spacing:-0.3px;">13528.2</div>
<div style="position:absolute;top:906.00px;height:60px;line-height:60px;font-size:24px;color:#e6e9ef;font-weight:400;white-space:nowrap;will-change:transform;left:1410.0px;width:60px;text-align:center;">6</div>
<div style="position:absolute;top:894.00px;height:60px;line-height:60px;font-size:24px;color:#e6e9ef;font-weight:400;white-space:nowrap;will-change:transform;left:1400px;width:300px;text-align:right;letter-spacing:-0.5px;">7354.80 €</div>
<div style="position:absolute;top:920.50px;height:60px;line-height:60px;font-size:21.5px;color:#e6e9ef;font-weight:400;white-space:nowrap;will-change:transform;left:1400px;width:300px;text-align:right;letter-spacing:-0.3px;">9.96 %</div>
<div style="position:absolute;top:894.00px;height:60px;line-height:60px;font-size:24px;color:#e6e9ef;font-weight:400;white-space:nowrap;will-change:transform;left:1600px;width:300px;text-align:right;letter-spacing:-0.5px;">74510.60 €</div>
<div style="position:absolute;top:920.50px;height:60px;line-height:60px;font-size:21.5px;color:#e6e9ef;font-weight:400;white-space:nowrap;will-change:transform;left:1600px;width:300px;text-align:right;letter-spacing:-0.3px;">9.53 %</div>
<div style="position:absolute;top:894.00px;height:60px;line-height:60px;font-size:24px;color:#e6e9ef;font-weight:400;white-space:nowrap;will-change:transform;left:1786px;width:300px;text-align:right;letter-spacing:-0.5px;">7354.80 €</div>
<div style="position:absolute;top:920.50px;height:60px;line-height:60px;font-size:21.5px;color:#e6e9ef;font-weight:400;white-space:nowrap;will-change:transform;left:1786px;width:300px;text-align:right;letter-spacing:-0.3px;">9.96 %</div>
<div style="position:absolute;top:894.00px;height:60px;line-height:60px;font-size:24px;color:#e8391f;font-weight:400;white-space:nowrap;will-change:transform;left:1972px;width:300px;text-align:right;letter-spacing:-0.5px;">5865.60 €</div>
<div style="position:absolute;top:920.50px;height:60px;line-height:60px;font-size:21.5px;color:#e8391f;font-weight:400;white-space:nowrap;will-change:transform;left:1972px;width:300px;text-align:right;letter-spacing:-0.3px;">7.95 %</div>
<div style="position:absolute;left:6px;top:1006px;width:2326px;height:2px;background:#363a4a;"></div>
<div style="position:absolute;left:322px;top:1076px;width:990px;height:2px;background:#363a4a;"></div>
<div style="position:absolute;top:1046.00px;height:60px;line-height:60px;font-size:24px;color:#e6e9ef;font-weight:400;white-space:nowrap;will-change:transform;left:30px;transform:scaleX(0.87);transform-origin:0 50%;">108</div>
<div style="position:absolute;top:1012.00px;height:60px;line-height:60px;font-size:24px;color:#e6e9ef;font-weight:400;white-space:nowrap;will-change:transform;left:345px;">Entrada larga</div>
<div style="position:absolute;top:1012.00px;height:60px;line-height:60px;font-size:24px;color:#e6e9ef;font-weight:400;white-space:nowrap;will-change:transform;left:659px;">Long</div>
<div style="position:absolute;top:1012.00px;height:60px;line-height:60px;font-size:24px;color:#e6e9ef;font-weight:400;white-space:nowrap;will-change:transform;left:961px;letter-spacing:-0.4px;">2020-12-17</div>
<div style="position:absolute;top:1012.00px;height:60px;line-height:60px;font-size:24px;color:#e6e9ef;font-weight:400;white-space:nowrap;will-change:transform;left:1051px;width:200px;text-align:right;letter-spacing:-0.3px;">13571.1</div>
<div style="position:absolute;top:1082.00px;height:60px;line-height:60px;font-size:24px;color:#e6e9ef;font-weight:400;white-space:nowrap;will-change:transform;left:345px;">Salida larga</div>
<div style="position:absolute;top:1082.00px;height:60px;line-height:60px;font-size:25px;color:#5d606b;font-weight:400;white-space:nowrap;will-change:transform;left:659px;font-style:italic;letter-spacing:0.3px;">Apertura</div>
<div style="position:absolute;left:1130px;top:-232px;width:0px;height:0px;background:transparent;"></div>
<div style="position:absolute;left:2334px;top:1062px;width:6px;height:82px;background:#363a45;border-radius:3px;"></div>
</div>
<div style="position:absolute;left:115px;top:160px;width:2336px;height:72px;background:#252a3c;"></div>
<div style="position:absolute;top:166.00px;height:60px;line-height:60px;font-size:23.3px;color:#d1d4dc;font-weight:700;white-space:nowrap;will-change:transform;left:137px;">Trend Balance Point System by Welles Wil...</div>
<svg style="position:absolute;left:684px;top:177px;" width="38" height="38" viewBox="684 177 38 38" fill="none" stroke="#868993" stroke-width="1.8"><path d="M703.00 185.20L703.42 185.20L703.85 185.21L704.28 185.17L704.75 184.93L705.34 184.23L705.99 183.56L706.55 183.40L707.07 183.47L707.57 183.62L708.05 183.80L708.52 184.02L708.98 184.26L709.40 184.58L709.68 185.10L709.67 186.02L709.59 186.93L709.75 187.44L710.03 187.77L710.33 188.07L710.64 188.36L710.93 188.67L711.23 188.97L711.56 189.25L712.07 189.41L712.98 189.33L713.90 189.32L714.42 189.60L714.74 190.02L714.98 190.48L715.20 190.95L715.38 191.43L715.53 191.93L715.60 192.45L715.44 193.01L714.77 193.66L714.07 194.25L713.83 194.72L713.79 195.15L713.80 195.58L713.80 196.00L713.80 196.42L713.79 196.85L713.83 197.28L714.07 197.75L714.77 198.34L715.44 198.99L715.60 199.55L715.53 200.07L715.38 200.57L715.20 201.05L714.98 201.52L714.74 201.98L714.42 202.40L713.90 202.68L712.98 202.67L712.07 202.59L711.56 202.75L711.23 203.03L710.93 203.33L710.64 203.64L710.33 203.93L710.03 204.23L709.75 204.56L709.59 205.07L709.67 205.98L709.68 206.90L709.40 207.42L708.98 207.74L708.52 207.98L708.05 208.20L707.57 208.38L707.07 208.53L706.55 208.60L705.99 208.44L705.34 207.77L704.75 207.07L704.28 206.83L703.85 206.79L703.42 206.80L703.00 206.80L702.58 206.80L702.15 206.79L701.72 206.83L701.25 207.07L700.66 207.77L700.01 208.44L699.45 208.60L698.93 208.53L698.43 208.38L697.95 208.20L697.48 207.98L697.02 207.74L696.60 207.42L696.32 206.90L696.33 205.98L696.41 205.07L696.25 204.56L695.97 204.23L695.67 203.93L695.36 203.64L695.07 203.33L694.77 203.03L694.44 202.75L693.93 202.59L693.02 202.67L692.10 202.68L691.58 202.40L691.26 201.98L691.02 201.52L690.80 201.05L690.62 200.57L690.47 200.07L690.40 199.55L690.56 198.99L691.23 198.34L691.93 197.75L692.17 197.28L692.21 196.85L692.20 196.42L692.20 196.00L692.20 195.58L692.21 195.15L692.17 194.72L691.93 194.25L691.23 193.66L690.56 193.01L690.40 192.45L690.47 191.93L690.62 191.43L690.80 190.95L691.02 190.48L691.26 190.02L691.58 189.60L692.10 189.32L693.02 189.33L693.93 189.41L694.44 189.25L694.77 188.97L695.07 188.67L695.36 188.36L695.67 188.07L695.97 187.77L696.25 187.44L696.41 186.93L696.33 186.02L696.32 185.10L696.60 184.58L697.02 184.26L697.48 184.02L697.95 183.80L698.43 183.62L698.93 183.47L699.45 183.40L700.01 183.56L700.66 184.23L701.25 184.93L701.72 185.17L702.15 185.21L702.58 185.20Z"/><circle cx="703" cy="196" r="5"/></svg>
<svg style="position:absolute;left:742px;top:175px;" width="42" height="42" viewBox="742 175 42 42" fill="none" stroke="#868993" stroke-width="1.8"><path d="M762.5 209.5A13.6 13.6 0 1 1 776.5 195.5"/><path d="M749.8 191C748 186 750.5 181 755 180.5C757 180.3 758.5 181.3 759 182.5M767 182.5C767.5 181.3 769 180.3 771 180.5C775.5 181 778 186 776.3 191"/><path d="M764 188V197.5H757M765 205H778.8M772 198V212"/></svg>
<div style="position:absolute;top:166.00px;height:60px;line-height:60px;font-size:24px;color:#9598a1;font-weight:400;white-space:nowrap;will-change:transform;left:1556px;">Vista general</div>
<div style="position:absolute;top:166.00px;height:60px;line-height:60px;font-size:24px;color:#9598a1;font-weight:400;white-space:nowrap;will-change:transform;left:1765px;">Resumen del rendimiento</div>
<div style="position:absolute;top:166.00px;height:60px;line-height:60px;font-size:24px;color:#2196f3;font-weight:400;white-space:nowrap;will-change:transform;left:2108px;">Lista de transacciones</div>
<div style="position:absolute;left:2109px;top:228px;width:238px;height:4px;background:#2196f3;"></div>
<svg style="position:absolute;left:2380px;top:177px;" width="38" height="38" viewBox="2380 177 38 38" fill="none" stroke="#868993" stroke-width="1.8"><circle cx="2399" cy="196" r="15.5"/><path d="M2394 191.5C2394 188.5 2396.5 186.5 2399.5 186.5C2402.5 186.5 2404.5 188.5 2404.5 191C2404.5 194 2401 195 2399.5 197.5V200"/><circle cx="2399.5" cy="205" r="1" fill="#868993"/></svg>
<svg style="position:absolute;left:20px;top:98px;" width="60" height="60" viewBox="20 98 60 60" fill="none" stroke="#2a86e0" stroke-width="2"><path d="M50 104V120M50 134V150M27 127H43M57 127H73"/></svg>
<svg style="position:absolute;left:20px;top:170px;" width="56" height="56" viewBox="20 170 56 56" fill="none" stroke="#868993" stroke-width="2"><circle cx="31.8" cy="215" r="4.5"/><circle cx="65.8" cy="180.8" r="4.5"/><path d="M35 211.8L62.6 184"/></svg>
<svg style="position:absolute;left:20px;top:240px;" width="60" height="56" viewBox="20 240 60 56" fill="none" stroke="#868993" stroke-width="2"><circle cx="31.8" cy="265" r="4.3"/><circle cx="31.8" cy="287" r="4.3"/><circle cx="54" cy="287" r="4.3"/><path d="M35 262L48 248.5M35 284L60 259M57.2 284L70.8 270.5M34.8 268L51 284"/></svg>
<svg style="position:absolute;left:20px;top:318px;" width="62" height="48" viewBox="20 318 62 48" fill="none" stroke="#868993" stroke-width="2"><path d="M26 359.5H44C52 359.5 57 354 57 347C57 341 53 336.5 47 336.5C40 336.5 36 341 34 346C32 351 29 356 26 359.5Z"/><path d="M54 330L59 335C61 337 63 337 65 335L76 324M54 330L56.5 327.5"/></svg>
<svg style="position:absolute;left:30px;top:390px;" width="40" height="48" viewBox="30 390 40 48" fill="none" stroke="#868993" stroke-width="2"><path d="M37.5 397H62.5M37.5 397V402M62.5 397V402M50 397V430M44 430H56"/></svg>
<svg style="position:absolute;left:20px;top:458px;" width="60" height="56" viewBox="20 458 60 56" fill="none" stroke="#868993" stroke-width="2"><circle cx="38.5" cy="468.8" r="3.8"/><circle cx="62" cy="471" r="3.8"/><circle cx="46" cy="482" r="3.8"/><circle cx="32" cy="502" r="4.2"/><circle cx="68.5" cy="497" r="4.2"/><path d="M38 472.5L33 498M40.5 471.5L44 478.5M48.5 479.5L59 473M35 499L43.5 485M49.5 484L64.5 495M63 474.8L67.5 493"/></svg>
<svg style="position:absolute;left:18px;top:530px;" width="60" height="58" viewBox="18 530 60 58" fill="none" stroke="#868993" stroke-width="2"><circle cx="29.5" cy="542" r="4"/><circle cx="29.5" cy="563" r="4"/><circle cx="29.5" cy="575" r="4"/><circle cx="66" cy="563" r="4"/><path d="M33.5 542H70M33.5 563H62M33.5 575H70"/><path d="M38 558.5L66 546" stroke-dasharray="3 4"/></svg>
<svg style="position:absolute;left:26px;top:608px;" width="46" height="46" viewBox="26 608 46 46" fill="none" stroke="#868993" stroke-width="2"><circle cx="48.8" cy="630" r="15.5"/><path d="M41.5 633.5C43 637.5 46 639.5 49 639.5C52 639.5 55 637.5 56.5 633.5"/><circle cx="43.5" cy="625" r="1.6" fill="#868993"/><circle cx="54" cy="625" r="1.6" fill="#868993"/></svg>
<svg style="position:absolute;left:20px;top:698px;" width="60" height="60" viewBox="20 698 60 60" fill="none" stroke="#868993" stroke-width="2"><path d="M26 740L62 704.5L73.5 716L37.5 751.5Z"/><path d="M34 732L39 737M40.5 725.5L44 729M47 719L52 724M53.5 712.5L57 716"/></svg>
<svg style="position:absolute;left:24px;top:776px;" width="46" height="46" viewBox="24 776 46 46" fill="none" stroke="#868993" stroke-width="2"><circle cx="45.5" cy="796.5" r="14.5"/><path d="M56 807L64.5 815.5M45.5 789V804M38 796.5H53"/></svg>
<svg style="position:absolute;left:28px;top:872px;" width="42" height="50" viewBox="28 872 42 50" fill="none" stroke="#868993" stroke-width="2"><path d="M33.5 915.5V894.5C33.5 885 40.5 878.5 49 878.5C57.5 878.5 64.5 885 64.5 894.5V915.5H55V894C55 890.5 52.5 888.5 49 888.5C45.5 888.5 43 890.5 43 894V915.5ZM33.5 906.5H43M55 906.5H64.5"/></svg>
<svg style="position:absolute;left:22px;top:940px;" width="52" height="54" viewBox="22 940 52 54" fill="none" stroke="#868993" stroke-width="2"><path stroke-linejoin="round" d="M27.5 979V970.5L51 947A2.5 2.5 0 0 1 54.5 947L59.5 952A2.5 2.5 0 0 1 59.5 955.5L36 979ZM32.5 973.5L54 952"/><rect x="51.5" y="976" width="17" height="13" rx="1.5"/><path d="M55.5 976V971C55.5 968.5 57.5 966.5 60 966.5C62.5 966.5 64.5 968.5 64.5 971M60 980.5V984.5"/></svg>
<svg style="position:absolute;left:28px;top:1014px;" width="42" height="52" viewBox="28 1014 42 52" fill="none" stroke="#868993" stroke-width="2"><rect x="33.5" y="1036.5" width="31" height="24" rx="2"/><path d="M40 1036.5V1029C40 1024 43.5 1020.5 48.5 1020.5C53.5 1020.5 57 1024 57 1029"/><path d="M49 1045V1051" stroke-width="4" stroke-linecap="round"/></svg>
<svg style="position:absolute;left:22px;top:1084px;" width="56" height="56" viewBox="22 1084 56 56" fill="none" stroke="#868993" stroke-width="1.8"><path d="M28.5 1106C33 1097.5 39.5 1092.5 47.2 1092.5C55 1092.5 61.5 1097.5 66 1106C61.5 1114.5 55 1119.5 47.2 1119.5C39.5 1119.5 33 1114.5 28.5 1106Z"/><circle cx="47.2" cy="1106" r="6.5"/><path d="M49.5 1135.5H56.5C60 1135.5 62.5 1133 62.5 1130C62.5 1127.5 60.5 1125.5 58 1125.5C55 1125.5 53 1127.5 52 1130C51 1132.5 50.5 1134 49.5 1135.5ZM64.5 1123.5C62.5 1125 62.5 1127.5 64.5 1128.5L71 1123"/></svg>
<svg style="position:absolute;left:28px;top:1188px;" width="40" height="48" viewBox="28 1188 40 48" fill="none" stroke="#868993" stroke-width="2"><path d="M35 1197H61M42.5 1196.5C43 1195 44 1194.5 45.5 1194.5H50.5C52 1194.5 53 1195 53.5 1196.5M36 1201.5H60.5V1226A5.5 5.5 0 0 1 55 1231.5H41.5A5.5 5.5 0 0 1 36 1226Z"/><path d="M42 1206V1224M48 1206V1224M54 1206V1224"/></svg>
<svg style="position:absolute;left:2480px;top:22px;" width="62" height="58" viewBox="2480 22 62 58" fill="none" stroke="#868993" stroke-width="2"><rect x="2488" y="28.5" width="46.5" height="44.5" rx="7"/><path d="M2498 40H2524.5M2498 47.5H2524.5M2498 55H2524.5M2498 62.5H2524.5"/></svg>
<svg style="position:absolute;left:2482px;top:118px;" width="60" height="60" viewBox="2482 118 60 60" fill="none" stroke="#868993" stroke-width="2"><circle cx="2512" cy="151" r="20.5"/><path d="M2490.5 141A9 9 0 1 1 2506 130.5M2512 136.5V151H2501M2494.5 171.7L2498 167M2529.5 171.7L2526 167"/></svg>
<div style="position:absolute;left:2517px;top:114px;width:32px;height:32px;background:#f24965;border-radius:50%;"></div>
<div style="position:absolute;top:100.00px;height:60px;line-height:60px;font-size:22px;color:#ffffff;font-weight:400;white-space:nowrap;will-change:transform;left:2526px;">1</div>
<svg style="position:absolute;left:2480px;top:222px;" width="64" height="58" viewBox="2480 222 64 58" fill="none" stroke="#868993" stroke-width="2"><rect x="2488" y="229" width="43" height="44" rx="4"/><path d="M2531 245H2534A4 4 0 0 1 2538 249V269A4 4 0 0 1 2534 273H2531"/><rect x="2495.5" y="236.5" width="11" height="10.7" rx="2"/><path d="M2511.4 237H2523M2511.4 242.7H2523M2494.8 252.8H2523M2494.8 258.8H2523M2494.8 264.8H2509"/></svg>
<svg style="position:absolute;left:2472px;top:312px;" width="68" height="66" viewBox="2472 312 68 66" fill="none" stroke="#868993" stroke-width="2"><path d="M2488 318.3V325.5M2488 332.7V339.8M2477.2 328.7H2484.6M2490.9 328.7H2498.7M2505 328.7H2527.5A7 7 0 0 1 2534.5 335.7V366A7 7 0 0 1 2527.5 373H2495A7 7 0 0 1 2488 366V346"/><rect x="2496" y="338.5" width="30" height="7" rx="3.5"/><path d="M2497.2 353H2512.8M2519 353H2525M2497.2 360.7H2512.8M2519 360.7H2525"/></svg>
<svg style="position:absolute;left:2486px;top:422px;" width="52" height="58" viewBox="2486 422 52 58" fill="none" stroke="#868993" stroke-width="2"><path stroke-linejoin="round" d="M2512 428.5C2505 434 2496 440 2492.5 447C2489 455 2491 466 2500 472C2509 478 2522 477 2529 469C2535 462 2535 450 2525 439.5C2524 446 2519 451 2513.5 451.5C2515.5 443 2516 434 2512 428.5Z"/></svg>
<svg style="position:absolute;left:2480px;top:516px;" width="62" height="62" viewBox="2480 516 62 62" fill="none" stroke="#868993" stroke-width="2"><rect x="2488" y="527" width="46" height="46" rx="7"/><path d="M2500 522V531.5M2522 522V531.5"/><circle cx="2499" cy="540" r="3"/><circle cx="2511" cy="540" r="3"/><circle cx="2522.8" cy="540" r="3"/><circle cx="2499" cy="552" r="3"/><circle cx="2511" cy="552" r="3"/><circle cx="2522.8" cy="552" r="3"/><circle cx="2499" cy="563.8" r="3"/><circle cx="2511" cy="563.8" r="3"/></svg>
<svg style="position:absolute;left:2484px;top:620px;" width="54" height="62" viewBox="2484 620 54 62" fill="none" stroke="#868993" stroke-width="2"><path d="M2500 660.5A18.6 18.6 0 1 1 2520 660.5M2500 660.5V669A4 4 0 0 0 2504 673H2516A4 4 0 0 0 2520 669V660.5ZM2500 666.8H2520M2505.2 673V675.6A2 2 0 0 0 2507.2 677.6H2512.6A2 2 0 0 0 2514.6 675.6V673M2505 646.8H2515M2510 646.8V660.5"/></svg>
<svg style="position:absolute;left:2480px;top:744px;" width="62" height="66" viewBox="2480 744 62 66" fill="none" stroke="#868993" stroke-width="2"><path d="M2503 763.5V759A6 6 0 0 1 2509 753H2520"/><path stroke-linejoin="round" d="M2496 789.5H2519A7 7 0 0 0 2526 782.5V772A7 7 0 0 0 2519 765H2495A7 7 0 0 0 2488 772V798.5Z"/><path stroke-linejoin="round" d="M2526 777.5H2527.5A7 7 0 0 1 2534.5 784.5V805L2526 794.5H2509A5 5 0 0 1 2504 789.5"/></svg>
<div style="position:absolute;left:2517px;top:740px;width:32px;height:32px;background:#f24965;border-radius:50%;"></div>
<div style="position:absolute;top:726.00px;height:60px;line-height:60px;font-size:22px;color:#ffffff;font-weight:400;white-space:nowrap;will-change:transform;left:2524px;">2</div>
<svg style="position:absolute;left:2480px;top:846px;" width="62" height="62" viewBox="2480 846 62 62" fill="none" stroke="#868993" stroke-width="2"><path stroke-linejoin="round" d="M2496 885H2519A7 7 0 0 0 2526 878V860A7 7 0 0 0 2519 853H2495A7 7 0 0 0 2488 860V894Z"/><path stroke-linejoin="round" d="M2526 865H2527.5A7 7 0 0 1 2534.5 872V901L2526 890.6H2509A5 5 0 0 1 2504 885.5"/></svg>
<svg style="position:absolute;left:2474px;top:946px;" width="76" height="64" viewBox="2474 946 76 64" fill="none" stroke="#868993" stroke-width="2"><path d="M2502 986.5A19 19 0 1 1 2522 986.5M2502 986.5V996A4 4 0 0 0 2506 1000H2518A4 4 0 0 0 2522 996V986.5ZM2502 993.5H2522M2507.5 1000V1002A2 2 0 0 0 2509.5 1004H2514.5A2 2 0 0 0 2516.5 1002V1000M2507 973H2517M2512 973V986.5"/><path d="M2485.7 957A23.2 23.2 0 0 0 2485.7 985M2491 960A19.5 19.5 0 0 0 2491 982M2538.3 957A23.2 23.2 0 0 1 2538.3 985M2533.4 960A19.5 19.5 0 0 1 2533.4 982"/></svg>
<svg style="position:absolute;left:2474px;top:1046px;" width="76" height="64" viewBox="2474 1046 76 64" fill="none" stroke="#868993" stroke-width="2"><path stroke-linejoin="round" d="M2508 1068.7L2522.3 1077L2508 1085Z"/><path d="M2496.8 1053.6A29.2 29.2 0 0 0 2496.8 1102.4M2502 1062.8A18.6 18.6 0 0 0 2502 1093.2M2528.8 1053.6A29.2 29.2 0 0 1 2528.8 1102.4M2523.6 1062.8A18.6 18.6 0 0 1 2523.6 1093.2"/></svg>
<svg style="position:absolute;left:2482px;top:1148px;" width="56" height="60" viewBox="2482 1148 56 60" fill="none" stroke="#868993" stroke-width="2"><path d="M2489.5 1192.5H2530.5V1189C2527 1186 2525.5 1183 2525.5 1177V1175C2525.5 1166 2519 1159.5 2510 1159.5C2501 1159.5 2494.5 1166 2494.5 1175V1177C2494.5 1183 2493 1186 2489.5 1189ZM2505.5 1159.5C2505.5 1156.5 2507.5 1154.5 2510 1154.5C2512.5 1154.5 2514.5 1156.5 2514.5 1159.5M2504 1192.5C2504 1197 2506.5 1200 2510 1200C2513.5 1200 2516 1197 2516 1192.5"/></svg>
<svg style="position:absolute;left:2476px;top:1280px;" width="76" height="48" viewBox="2476 1280 76 48" fill="none" stroke="#868993" stroke-width="2"><path d="M2485 1318L2500 1303L2515 1318M2511 1291L2525 1305L2541 1289" stroke-width="8" stroke-linecap="round" stroke-linejoin="miter"/><path d="M2485 1318L2500 1303L2515 1318M2511 1291L2525 1305L2541 1289" stroke-width="4.5" stroke="#131722" stroke-linecap="round" stroke-linejoin="miter"/></svg>
</body></html>
